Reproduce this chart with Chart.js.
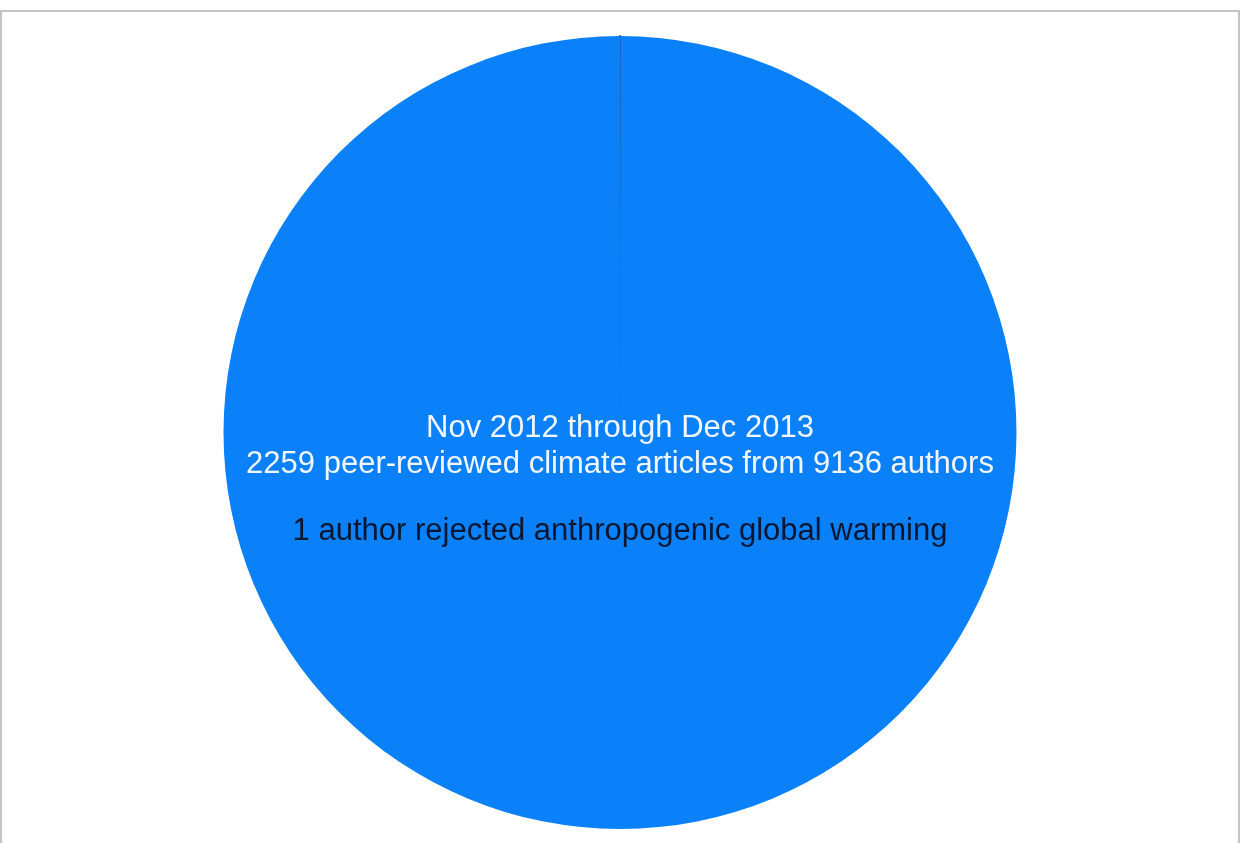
<!DOCTYPE html>
<html>
<head>
<meta charset="utf-8">
<script src="https://cdn.jsdelivr.net/npm/chart.js@4"></script>
<style>
  html, body { margin: 0; padding: 0; background: #ffffff; }
  #wrap { position: relative; width: 1240px; height: 843px; overflow: hidden; }
  #frame { position: absolute; left: 0px; top: 10px; width: 1236px; height: 850px;
           border: 2px solid #c4c4c4; pointer-events: none; }
  canvas { position: absolute; left: 0; top: 0; }
</style>
</head>
<body>
<div id="wrap">
  <canvas id="c" width="1240" height="843"></canvas>
  <div id="frame"></div>
</div>
<script>
const categories = ["Rejected anthropogenic global warming", "Accepted anthropogenic global warming"];
const authorCounts = [1, 9135];
const sliceColors = ["#1c2433", "#0a80f9"];
const centerLines = [
  { text: "Nov 2012 through Dec 2013", color: "#f2f6ff", dy: -4 },
  { text: "2259 peer-reviewed climate articles from 9136 authors", color: "#f2f6ff", dy: 32 },
  { text: "1 author rejected anthropogenic global warming", color: "#0b1631", dy: 99 }
];

const centerText = {
  id: 'centerText',
  afterDatasetsDraw(chart) {
    const meta = chart.getDatasetMeta(0);
    const arc = meta.data[0];
    const cx = arc.x, cy = arc.y;
    const ctx = chart.ctx;
    ctx.save();
    ctx.font = '31px "Liberation Sans", Arial, sans-serif';
    ctx.textAlign = 'center';
    ctx.textBaseline = 'middle';
    centerLines.forEach(l => {
      ctx.fillStyle = l.color;
      ctx.fillText(l.text, cx, cy + l.dy);
    });
    ctx.restore();
  }
};

new Chart(document.getElementById('c'), {
  type: 'pie',
  data: {
    labels: categories,
    datasets: [{
      data: authorCounts,
      backgroundColor: sliceColors,
      borderColor: ["#222a3a", "#0a80f9"],
      borderWidth: [2, 0]
    }]
  },
  options: {
    responsive: false,
    animation: false,
    layout: { padding: { top: 35, bottom: 13, left: 0, right: 0 } },
    plugins: {
      legend: { display: false },
      tooltip: { enabled: false },
      title: { display: false }
    }
  },
  plugins: [centerText]
});
</script>
</body>
</html>
